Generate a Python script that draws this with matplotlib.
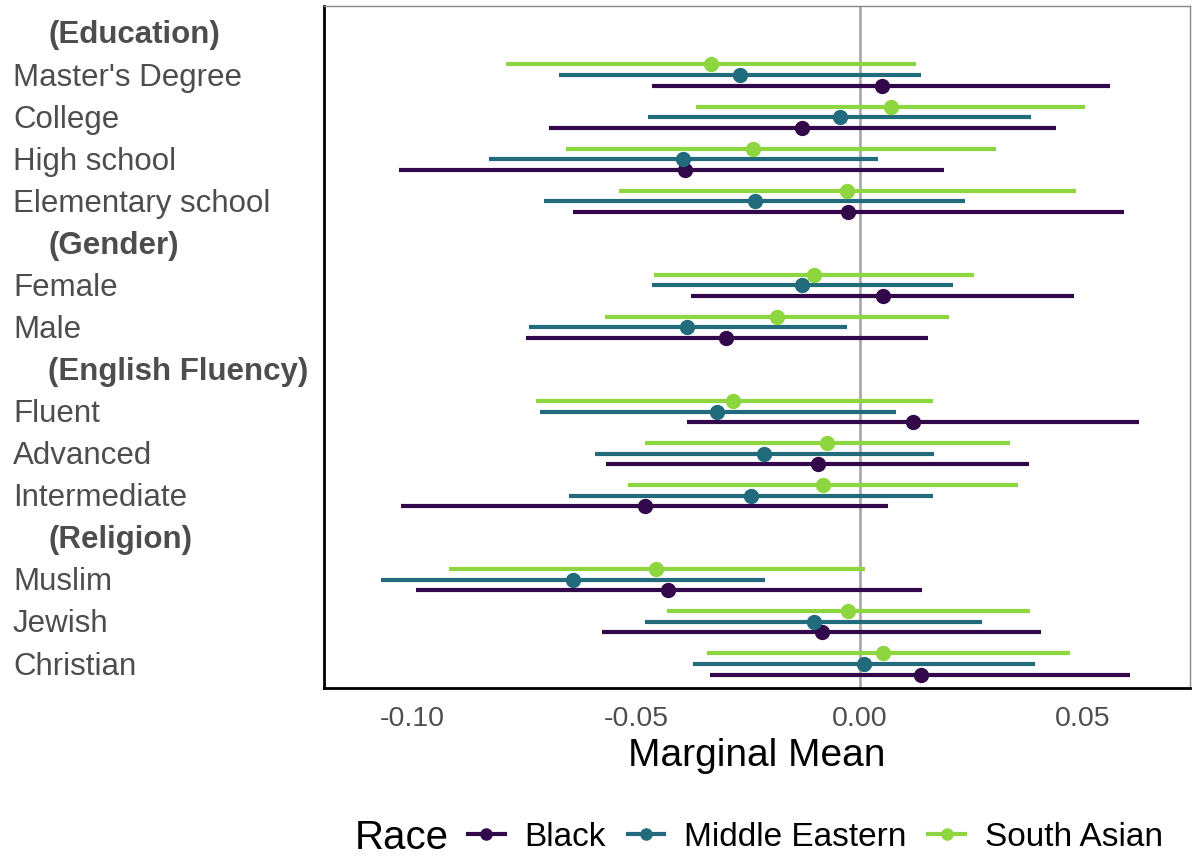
import numpy as np
from matplotlib import pyplot as plt
from matplotlib.lines import Line2D
from matplotlib.transforms import blended_transform_factory

plt.rcParams["font.family"] = ["Liberation Sans", "DejaVu Sans"]

rows = ["(Education)", "Master's Degree", "College", "High school", "Elementary school",
        "(Gender)", "Female", "Male",
        "(English Fluency)", "Fluent", "Advanced", "Intermediate",
        "(Religion)", "Muslim", "Jewish", "Christian"]
headers = ["(Education)", "(Gender)", "(English Fluency)", "(Religion)"]

races = ["Black", "Middle Eastern", "South Asian"]
colours = ["#33084a", "#216b7c", "#8dd63f"]

nan = np.nan
black_est = [nan, 0.0049, -0.0128, -0.0390, -0.0025, nan, 0.0052, -0.0298,
             nan, 0.0119, -0.0094, -0.0480, nan, -0.0428, -0.0085, 0.0137]
black_lo  = [nan, -0.0464, -0.0695, -0.1031, -0.0641, nan, -0.0377, -0.0747,
             nan, -0.0386, -0.0567, -0.1025, nan, -0.0993, -0.0576, -0.0334]
black_hi  = [nan, 0.0561, 0.0439, 0.0188, 0.0592, nan, 0.0480, 0.0152,
             nan, 0.0626, 0.0379, 0.0063, nan, 0.0139, 0.0406, 0.0605]

me_est = [nan, -0.0267, -0.0045, -0.0395, -0.0235, nan, -0.0130, -0.0386,
          nan, -0.0318, -0.0213, -0.0242, nan, -0.0641, -0.0101, 0.0009]
me_lo  = [nan, -0.0673, -0.0473, -0.0830, -0.0706, nan, -0.0464, -0.0740,
          nan, -0.0715, -0.0592, -0.0650, nan, -0.1070, -0.0480, -0.0372]
me_hi  = [nan, 0.0137, 0.0383, 0.0040, 0.0235, nan, 0.0209, -0.0029,
          nan, 0.0081, 0.0166, 0.0164, nan, -0.0211, 0.0274, 0.0392]

sa_est = [nan, -0.0332, 0.0070, -0.0238, -0.0029, nan, -0.0101, -0.0184,
          nan, -0.0283, -0.0074, -0.0081, nan, -0.0455, -0.0025, 0.0052]
sa_lo  = [nan, -0.0791, -0.0365, -0.0657, -0.0538, nan, -0.0460, -0.0570,
          nan, -0.0724, -0.0480, -0.0518, nan, -0.0919, -0.0430, -0.0341]
sa_hi  = [nan, 0.0126, 0.0504, 0.0305, 0.0484, nan, 0.0256, 0.0200,
          nan, 0.0164, 0.0336, 0.0354, nan, 0.0013, 0.0381, 0.0471]

series = [(black_est, black_lo, black_hi), (me_est, me_lo, me_hi), (sa_est, sa_lo, sa_hi)]
offsets = [-0.25, 0.0, 0.25]

fig = plt.figure(figsize=(11.93, 8.56), dpi=100)
ax = fig.add_axes([0.2716, 0.1963, 0.7259, 0.7967])

ax.axvline(0, color="#aaaaaa", lw=2, zorder=1)

y = -np.arange(len(rows), dtype=float)
for (est, lo, hi), c, off in zip(series, colours, offsets):
    est, lo, hi = np.array(est), np.array(lo), np.array(hi)
    yy = y + off
    ax.hlines(yy, lo, hi, color=c, lw=3, zorder=2)
    ax.plot(est, yy, "o", color=c, ms=10, zorder=3)

ax.set_xlim(-0.1198, 0.0739)
ax.set_ylim(-len(rows) + 1 - 0.57, 0.64)
ax.set_xticks([-0.10, -0.05, 0.00, 0.05])
ax.set_xticklabels(["-0.10", "-0.05", "0.00", "0.05"])
ax.tick_params(axis="x", length=0, pad=13, labelsize=20.5, labelcolor="#4d4d4d")
ax.set_yticks([])
ax.set_xlabel("Marginal Mean", fontsize=28, labelpad=4)

for side in ["top", "right"]:
    ax.spines[side].set_color("#888888")
    ax.spines[side].set_linewidth(1)
for side in ["left", "bottom"]:
    ax.spines[side].set_color("black")
    ax.spines[side].set_linewidth(2)

trans = blended_transform_factory(fig.transFigure, ax.transData)
for yi, lab in zip(y, rows):
    if lab in headers:
        ax.text(48 / 1193, yi - 0.06, lab, transform=trans, ha="left", va="center",
                fontsize=22.5, fontweight="bold", color="#4d4d4d")
    else:
        ax.text(13 / 1193, yi - 0.06, lab, transform=trans, ha="left", va="center",
                fontsize=22.5, color="#4d4d4d")

handles = [Line2D([0], [0], color=c, lw=3, marker="o", ms=8) for c in colours]
fig.text(355 / 1193, 1 - 838 / 856, "Race", fontsize=29, ha="left", va="center")
fig.legend(handles, races, loc="center left", bbox_to_anchor=(468 / 1193, 1 - 837 / 856),
           ncol=3, frameon=False, fontsize=24, handlelength=1.1, columnspacing=0.65,
           handletextpad=0.6, borderaxespad=0, borderpad=0)

plt.savefig("out.png", dpi=100)
plt.close()
